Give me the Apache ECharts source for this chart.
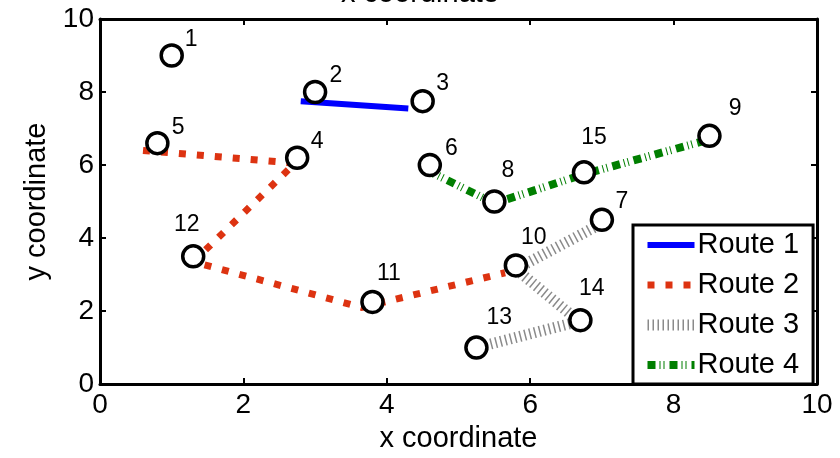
<!DOCTYPE html>
<html>
<head>
<meta charset="utf-8">
<script src="https://cdn.jsdelivr.net/npm/echarts@6/dist/echarts.min.js"></script>
<style>html,body{margin:0;padding:0;background:#fff;}#c{width:840px;height:458px;}</style>
</head>
<body>
<div id="c"></div>
<script>
// Node coordinates (x, y) and ids
var nodeIds = ['1','2','3','4','5','6','7','8','9','10','11','12','13','14','15'];
var nodeX = [1.0, 3.0, 4.5, 2.75, 0.8, 4.6, 7.0, 5.5, 8.5, 5.8, 3.8, 1.3, 5.25, 6.7, 6.75];
var nodeY = [9.0, 8.0, 7.75, 6.2, 6.6, 6.0, 4.5, 5.0, 6.8, 3.25, 2.25, 3.5, 1.0, 1.75, 5.8];
// Node label text positions (data coords)
var labelX = [1.27, 3.29, 4.78, 3.03, 1.09, 4.90, 7.28, 5.69, 8.86, 6.05, 4.03, 1.21, 5.57, 6.86, 6.89];
var labelY = [9.43, 8.45, 8.22, 6.64, 7.03, 6.45, 5.0, 5.85, 7.55, 4.02, 3.02, 4.36, 1.81, 2.62, 6.74];
// Routes (polyline vertices as drawn)
var routeNames = ['Route 1', 'Route 2', 'Route 3', 'Route 4'];
var route1 = [[2.8, 7.75], [4.3, 7.55]];
var route2 = [[0.6, 6.4], [2.72, 6.05], [1.3, 3.35], [3.65, 2.1], [5.65, 3.05]];
var route3 = [[6.95, 4.35], [5.8, 3.15], [6.68, 1.72], [5.25, 1.0]];
var route4 = [[4.57, 5.85], [5.5, 4.95], [6.75, 5.75], [8.5, 6.7]];

var FONT = 'Liberation Sans';
var styles = [
  {color: '#0000ff', width: 6, type: 'solid'},
  {color: '#dd3311', width: 7, type: [7, 11]},
  {color: '#8a8a8a', width: 11, type: [1.5, 3.5]},
  {color: '#007f00', width: 8, type: [8, 4, 1, 3, 1, 5]}
];
var routes = [route1, route2, route3, route4];

var series = routes.map(function (r, i) {
  return {
    type: 'line', name: routeNames[i], data: r, symbol: 'none', z: 2,
    lineStyle: {color: styles[i].color, width: styles[i].width, type: styles[i].type, cap: 'butt', join: 'miter'},
    itemStyle: {color: styles[i].color},
    animation: false
  };
});
series.push({
  type: 'scatter', name: 'nodes', z: 5,
  data: nodeX.map(function (x, i) { return [x, nodeY[i]]; }),
  symbol: 'circle', symbolSize: 21,
  itemStyle: {color: '#fff', borderColor: '#000', borderWidth: 3.5, opacity: 1},
  animation: false, silent: true
});
series.push({
  type: 'scatter', name: 'labels', z: 6,
  data: labelX.map(function (x, i) { return {value: [x, labelY[i]], name: nodeIds[i]}; }),
  symbol: 'circle', symbolSize: 1, itemStyle: {color: 'rgba(255,255,255,0)'},
  label: {show: true, position: 'inside', formatter: '{b}', fontFamily: FONT, fontSize: 23,
    color: '#000', textBorderWidth: 0, textShadowBlur: 0, opacity: 1},
  animation: false, silent: true
});

function axisCommon(extra) {
  var a = {
    type: 'value', min: 0, max: 10, interval: 2,
    axisLine: {show: true, onZero: false, lineStyle: {color: '#000', width: 3}},
    axisTick: {show: true, inside: true, length: 6, lineStyle: {color: '#000', width: 2}},
    splitLine: {show: false},
    axisLabel: {show: true, fontFamily: FONT, fontSize: 28, color: '#000'}
  };
  for (var k in extra) a[k] = extra[k];
  return a;
}

var chart = echarts.init(document.getElementById('c'), null, {renderer: 'canvas'});
chart.setOption({
  animation: false,
  backgroundColor: '#fff',
  grid: {left: 100, right: 23, top: 19, bottom: 68, containLabel: false},
  xAxis: [
    axisCommon({position: 'bottom', name: 'x coordinate', nameLocation: 'middle', nameGap: 36,
      nameTextStyle: {fontFamily: FONT, fontSize: 29, color: '#000'},
      axisLabel: {show: true, fontFamily: FONT, fontSize: 28, color: '#000', margin: 7}}),
    axisCommon({position: 'top', axisLabel: {show: false}})
  ],
  yAxis: [
    axisCommon({position: 'left', name: 'y coordinate', nameLocation: 'middle', nameGap: 48, nameRotate: 90,
      nameTextStyle: {fontFamily: FONT, fontSize: 29, color: '#000'},
      axisLabel: {show: true, fontFamily: FONT, fontSize: 28, color: '#000', margin: 6}}),
    axisCommon({position: 'right', axisLabel: {show: false}})
  ],
  legend: {
    orient: 'vertical', left: 633, top: 225,
    itemWidth: 47, itemHeight: 14, itemGap: 10,
    padding: [5, 14, 4, 9],
    backgroundColor: '#fff', borderColor: '#000', borderWidth: 3, borderRadius: 0,
    textStyle: {fontFamily: FONT, fontSize: 29, color: '#000', lineHeight: 30, padding: [0, 0, 0, -2]},
    data: routeNames.map(function (n, i) {
      return {name: n,
        itemStyle: {opacity: 0, borderWidth: 0},
        lineStyle: {color: styles[i].color, width: styles[i].width, type: styles[i].type, cap: 'butt', opacity: 1}};
    })
  },
  graphic: [{
    type: 'text', left: 'center', top: -21,
    style: {text: 'x coordinate', fontFamily: FONT, fontSize: 29, fill: '#000'}
  }],
  series: series
});
</script>
</body>
</html>
